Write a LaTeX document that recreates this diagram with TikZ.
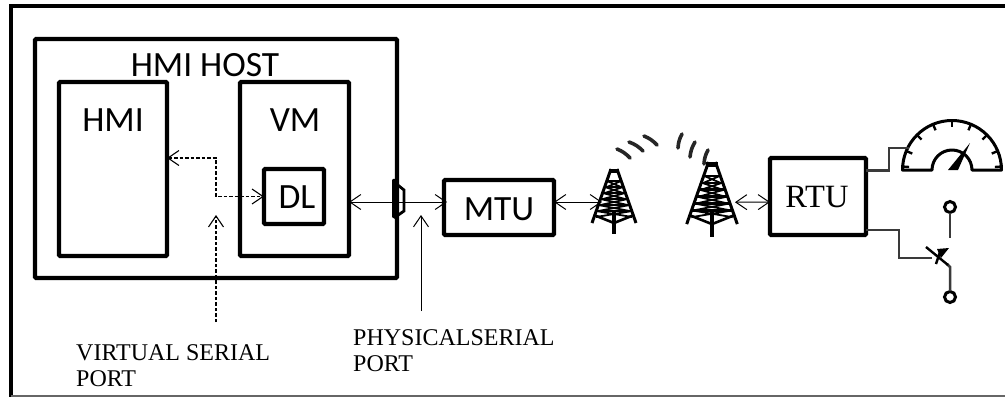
\documentclass[tikz,border=0pt]{standalone}
\usepackage{fontspec}
\setmainfont{Liberation Serif}
\setsansfont{Carlito}
\usetikzlibrary{arrows.meta,calc,positioning}
\definecolor{DiagramInk}{HTML}{000000}
\definecolor{WireGrey}{HTML}{3A3A3A}
\definecolor{FrameGrey}{HTML}{666666}
\tikzset{
  panel/.style={draw=DiagramInk, line width=4.2pt, rounded corners=1pt, inner sep=0pt, outer sep=0pt},
  sanslabel/.style={font=\sffamily\fontsize{35.5}{36}\selectfont, text=DiagramInk, inner sep=0pt},
  seriflabel/.style={font=\rmfamily\fontsize{24}{26}\selectfont, text=DiagramInk, inner sep=0pt, align=left, anchor=north west},
  duplex/.style={{Straight Barb[length=11pt,width=15pt]}-{Straight Barb[length=11pt,width=15pt]}, draw=DiagramInk, line width=1pt},
  pointer/.style={-{Straight Barb[length=11pt,width=15pt]}, draw=DiagramInk, line width=1pt},
  virtual/.style={draw=DiagramInk, line width=1.1pt, dash pattern=on 3.5pt off 2pt},
  wire/.style={draw=WireGrey, line width=2.5pt},
  wave/.style={draw=DiagramInk!85, line width=3.6pt, line cap=round},
  pics/radiotower/.style={code={
    % Legs and mast
    \draw[DiagramInk, line width=3pt] (-3,0) -- (-22,54) (3,0) -- (22,54);
    \draw[DiagramInk, line width=3.4pt] (0,42) -- (0,65);
    \fill[DiagramInk] (-5,0) rectangle (5,4);
    % Lattice
    \foreach \y/\w in {12/7,18/9,24/11,30/13.5,36/15.5,42/18}{
      \draw[DiagramInk, line width=2.4pt] (-\w,\y) -- (\w,\y);
      \draw[DiagramInk, line width=1.8pt] (-\w,\y) -- (\w,\y+6) (\w,\y) -- (-\w,\y+6);
    }
    \draw[DiagramInk, line width=2.6pt] (-20,46) -- (0,54) -- (20,46);
    \coordinate (-west) at (-12,33);
    \coordinate (-east) at (20,35);
  }},
}

\begin{document}
\begin{tikzpicture}[x=1pt,y=-1pt]
  \useasboundingbox (0,0) rectangle (1005,397);
  % Outer frame, open on the right
  \draw[DiagramInk, line width=3.4pt] (1005,6) -- (11,6) -- (11,397);
  \draw[FrameGrey, line width=1.2pt] (11,396) -- (1005,396);
  % Host and its boxes
  \node[panel, minimum width=362pt, minimum height=239pt] (host) at (216,158.5) {};
  \node[panel, minimum width=108pt, minimum height=174pt] (hmi) at (113,169) {};
  \node[panel, minimum width=109pt, minimum height=174pt] (vm) at (294.5,169) {};
  \node[panel, minimum width=60pt, minimum height=55pt] (dl) at (294,196.5) {};
  \node[panel, minimum width=110pt, minimum height=55pt] (mtu) at (499,207.5) {};
  \node[panel, minimum width=96pt, minimum height=77pt] (rtu) at (818,196.5) {};
  % Box labels
  \node[sanslabel] (hostlabel) at (205,65) {HMI HOST};
  \node[sanslabel] (hmilabel) at (113,120) {HMI};
  \node[sanslabel] (vmlabel) at (295,120) {VM};
  \node[sanslabel] (dllabel) at (297,197) {DL};
  \node[sanslabel] (mtulabel) at (499,209) {MTU};
  \node[font=\rmfamily\fontsize{32.5}{33}\selectfont, inner sep=0pt] (rtulabel) at (817,197) {RTU};
  \node[seriflabel] (virtuallabel) at (76,344) {VIRTUAL SERIAL\\PORT};
  \node[seriflabel] (physicallabel) at (353,329) {PHYSICALSERIAL\\PORT};
  % Towers
  \pic (towerA) at (614,169) {radiotower};
  \pic[scale=1.15] (towerB) at (712,162) {radiotower};
  % Radio waves
  \draw[wave] (617,149) to[bend left=12] (630,158);
  \draw[wave] (629,142) to[bend left=12] (643,151);
  \draw[wave] (644,136) to[bend left=12] (657,145);
  \draw[wave] (682,134) to[bend right=12] (678,148);
  \draw[wave] (695,142) to[bend right=12] (690,157);
  \draw[wave] (708,150) to[bend right=12] (704,164);
  % Serial links
  \coordinate (virtualjoin) at (216,196.5);
  \coordinate (virtualfoot) at (216,322);
  \coordinate (virtualtip) at (216,215);
  \coordinate (physicalfoot) at (421,311);
  \coordinate (physicaltip) at (421,215);
  \draw[virtual, {Straight Barb[length=11pt,width=15pt]}-{Straight Barb[length=11pt,width=15pt]}]
    ([yshift=11pt]hmi.east) -| (virtualjoin) -- (dl.west);
  \draw[virtual, -{Straight Barb[length=11pt,width=15pt]}] (virtualfoot) -- (virtualtip);
  \draw[pointer] (physicalfoot) -- (physicaltip);
  \draw[duplex] ([yshift=-33pt]vm.east) -- ([yshift=5.5pt,xshift=3pt]mtu.west);
  \draw[duplex] ([yshift=5.5pt]mtu.east) -- (towerA-west);
  \draw[duplex] (towerB-east) -- ([yshift=-5.5pt]rtu.west);
  % Physical port on the host wall
  \draw[DiagramInk, line width=4.6pt, line cap=round] (394,181) -- (394,216);
  \draw[DiagramInk, line width=2.8pt] (394,182) -- (404,190) -- (404,211) -- (394,218);
  % Gauge
  \coordinate (gaugehub) at (952,170);
  \draw[DiagramInk, line width=3pt, line join=round]
    ($(gaugehub)+(-49.5,0)$) arc[start angle=-180, end angle=0, radius=49.5]
    -- ($(gaugehub)+(20,0)$) arc[start angle=0, end angle=-180, radius=20] -- cycle;
  \foreach \a in {-4,-22.5,-45,-67.5,-90,-112.5,-135,-157.5,-176}
    \draw[DiagramInk, line width=2.4pt] ($(gaugehub)+(\a:49)$) -- ($(gaugehub)+(\a:43)$);
  \fill[DiagramInk] (948,170) -- (958,170) -- (970,143) -- cycle;
  \coordinate (gaugestep) at (889,148);
  \coordinate (gaugetap) at (909,148);
  \draw[wire] ([yshift=26pt]rtu.east) -| (gaugestep) -- (gaugetap);
  % Switch
  \coordinate (switchstep) at (899,258);
  \coordinate (switchtap) at (932,258);
  \draw[wire] ([yshift=-33.5pt]rtu.east) -| (switchstep) -- (switchtap);
  \draw[DiagramInk, line width=3pt] (950,207) circle[radius=5.5];
  \draw[DiagramInk, line width=3pt] (950,297) circle[radius=5.5];
  \draw[wire] (950,213) -- (950,238);
  \draw[wire] (950,291) -- (950,267) -- (947,264);
  \draw[DiagramInk, line width=2.4pt] (926,247) -- (948,265);
  \draw[DiagramInk, line width=2.4pt] (936,264) -- (940,252);
  \fill[DiagramInk] (937,249) -- (949,248) -- (941,258) -- cycle;
\end{tikzpicture}
\end{document}
